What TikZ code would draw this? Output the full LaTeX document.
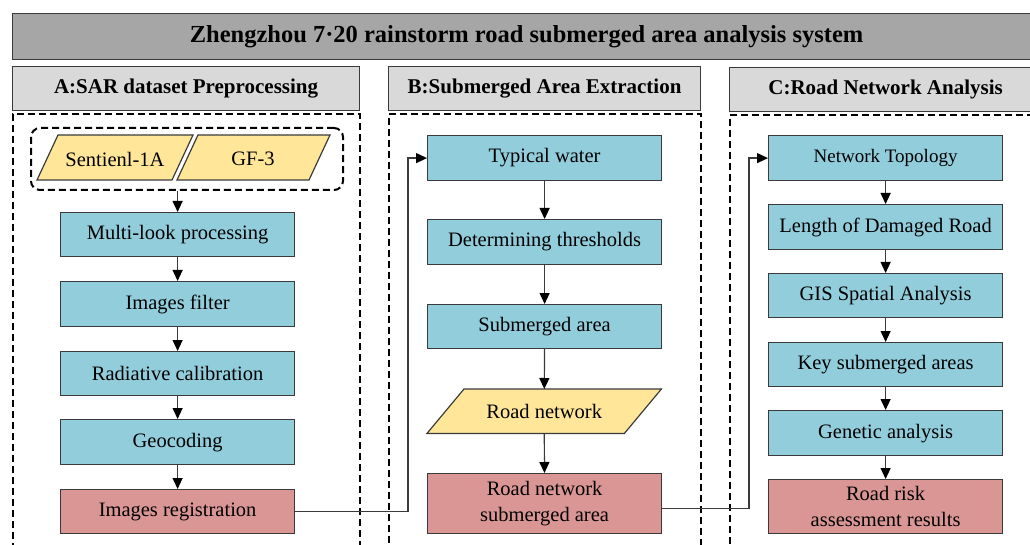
\documentclass[tikz,border=0pt]{standalone}
\usepackage{fontspec}
\setmainfont{Liberation Serif}
\usetikzlibrary{arrows.meta,calc}
\definecolor{bluef}{HTML}{92CDDC}
\definecolor{yelf}{HTML}{FFE699}
\definecolor{redf}{HTML}{D99694}
\definecolor{edgec}{HTML}{3A3A3A}
\definecolor{titlef}{HTML}{A6A6A6}
\definecolor{headf}{HTML}{D9D9D9}
\begin{document}
\begin{tikzpicture}[x=1pt,y=-1pt,
  box/.style={draw=edgec, line width=1.2pt, minimum width=234pt, minimum height=45pt,
    inner sep=0pt, align=center, anchor=north west, font=\fontsize{20.5}{26}\selectfont},
  bluebox/.style={box, fill=bluef},
  redbox/.style={box, fill=redf},
  datatext/.style={minimum width=234pt, minimum height=44pt, inner sep=0pt, anchor=north west,
    font=\fontsize{20.5}{26}\selectfont},
  datashape/.style={draw=edgec, line width=1.2pt, fill=yelf},
  header/.style={draw=edgec, line width=1.2pt, fill=headf, inner sep=0pt, anchor=north west,
    minimum height=44pt, font=\bfseries\fontsize{21}{24}\selectfont},
  panel/.style={draw=black, line width=2pt, dash pattern=on 7pt off 4pt, inner sep=0pt, anchor=north west},
  arr/.style={draw=edgec, line width=1.2pt, -{Triangle[length=11pt,width=10pt,fill=black,color=black]}},
  link/.style={draw=edgec, line width=1.2pt}
]
\useasboundingbox (0,0) rectangle (1030,545);
\clip (0,0) rectangle (1030,545);

% title
\node[draw=edgec, line width=1.2pt, fill=titlef, anchor=north west, minimum width=1028pt,
  minimum height=46pt, inner sep=0pt, font=\bfseries\fontsize{24.5}{28}\selectfont]
  (title) at (12,13) {Zhengzhou 7·20 rainstorm road submerged area analysis system};

% headers
\node[header, minimum width=347pt] (headA) at (12,66) {A:SAR dataset Preprocessing};
\node[header, minimum width=312pt] (headB) at (388,66) {B:Submerged Area Extraction};
\node[header, minimum width=312pt] (headC) at (729,67) {C:Road Network Analysis};

% dashed panels
\node[panel, minimum width=347pt, minimum height=450pt] (panelA) at (12,113) {};
\node[panel, minimum width=312pt, minimum height=450pt] (panelB) at (388,113) {};
\node[panel, minimum width=312pt, minimum height=450pt] (panelC) at (729,114) {};

% source data group
\node[panel, rounded corners=9pt, minimum width=312pt, minimum height=62pt] (src) at (30,127) {};
\draw[datashape] (37,180) -- (58,135) -- (193,135) -- (172,180) -- cycle;
\draw[datashape] (177,180) -- (198,135) -- (330,135) -- (309,180) -- cycle;
\node[font=\fontsize{20.5}{26}\selectfont] (s1) at (115,159) {Sentienl-1A};
\node[font=\fontsize{20.5}{26}\selectfont] (gf) at (253,159) {GF-3};

% column A
\node[bluebox, minimum height=44pt] (ml) at (60,212) {Multi-look processing};
\node[bluebox] (imf) at (60,281) {Images filter};
\node[bluebox, minimum height=44pt] (rc) at (60,351) {Radiative calibration};
\node[bluebox] (geo) at (60,419) {Geocoding};
\node[redbox, minimum height=44pt] (ir) at (60,489) {Images registration};

\draw[arr] (src.south -| ml.north) -- (ml.north);
\draw[arr] (ml) -- (imf);
\draw[arr] (imf) -- (rc);
\draw[arr] (rc) -- (geo);
\draw[arr] (geo) -- (ir);

% column B
\node[bluebox] (tw) at (427,135) {Typical water};
\node[bluebox] (dt) at (427,219) {Determining thresholds};
\node[bluebox, minimum height=44pt] (sa) at (427,304) {Submerged area};
\node[datatext] (rn) at (427,389) {};
\draw[datashape] (rn.south west) -- ($(rn.north west)+(37,0)$) -- (rn.north east)
  -- ($(rn.south east)+(-37,0)$) -- cycle;
\node[font=\fontsize{20.5}{26}\selectfont] (rntext) at (rn.center) {Road network};
\node[redbox, minimum height=60pt] (rnsa) at (427,473) {Road network\\submerged area};

\draw[arr] (tw) -- (dt);
\draw[arr] (dt) -- (sa);
\draw[arr] (sa) -- (rn);
\draw[arr] (rn) -- (rnsa);

% column C
\node[bluebox, font=\fontsize{19}{22}\selectfont] (nt) at (768,135) {Network Topology};
\node[bluebox] (ld) at (768,204) {Length of Damaged Road};
\node[bluebox, minimum height=44pt] (gis) at (768,273) {GIS Spatial Analysis};
\node[bluebox, minimum height=44pt] (key) at (768,342) {Key submerged areas};
\node[bluebox] (gen) at (768,410) {Genetic analysis};
\node[redbox, minimum height=54pt] (rr) at (768,479) {Road risk\\assessment results};

\draw[arr] (nt) -- (ld);
\draw[arr] (ld) -- (gis);
\draw[arr] (gis) -- (key);
\draw[arr] (key) -- (gen);
\draw[arr] (gen) -- (rr);

% cross-panel links
\coordinate (j1) at (408,0);
\coordinate (j2) at (749,0);
\draw[arr] (ir.east) -- (ir.east -| j1) |- (tw.west);
\draw[arr] ($(rnsa.east)+(0,5)$) -- ($(rnsa.east -| j2)+(0,5)$) |- (nt.west);
\end{tikzpicture}
\end{document}
